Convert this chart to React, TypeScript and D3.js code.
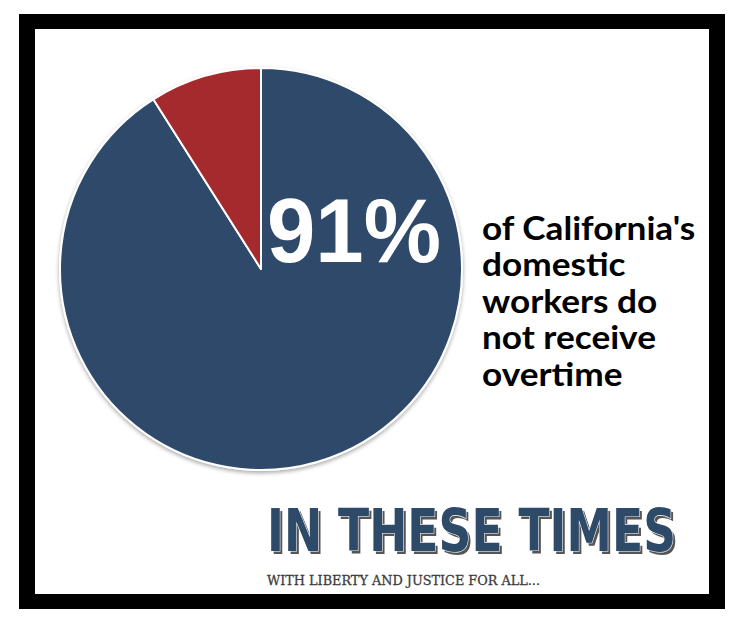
import React from "react";
import * as d3 from "d3";

const categories = ["Do not receive overtime", "Receive overtime"];
const values = [91, 9];
const colors = ["#2e4a69", "#a52c2f"];
const bigLabel = "91%";
const captionLines = ["of California's", "domestic", "workers do", "not receive", "overtime"];
const logoTitle = "IN THESE TIMES";
const logoTagline = "WITH LIBERTY AND JUSTICE FOR ALL...";

const W = 739;
const H = 622;

export default function App() {
  const cx = 261;
  const cy = 269;
  const r = 201;
  const pie = d3.pie<number>().sort(null).value((d) => d);
  const arcs = pie(values);
  const arc = d3.arc<d3.PieArcDatum<number>>().innerRadius(0).outerRadius(r);
  const capX = 482;
  const logoFont = "'Liberation Sans Narrow', 'DejaVu Sans Condensed', 'Liberation Sans', sans-serif";

  return (
    <div style={{ position: "fixed", left: 0, top: 0 }}>
      <svg width={W} height={H} viewBox={`0 0 ${W} ${H}`} style={{ display: "block" }}>
        <defs>
          <filter id="pieShadow" x="-10%" y="-10%" width="120%" height="120%">
            <feGaussianBlur in="SourceAlpha" stdDeviation="2" />
            <feOffset dx="0" dy="2" result="b" />
            <feComponentTransfer>
              <feFuncA type="linear" slope="0.35" />
            </feComponentTransfer>
            <feMerge>
              <feMergeNode />
              <feMergeNode in="SourceGraphic" />
            </feMerge>
          </filter>
        </defs>
        <rect x={0} y={0} width={W} height={H} fill="#ffffff" />
        <rect x={19} y={14} width={706} height={595} fill="#000000" />
        <rect x={35} y={29} width={674} height={565} fill="#ffffff" />

        <g transform={`translate(${cx},${cy})`} filter="url(#pieShadow)">
          {arcs.map((a, i) => (
            <path
              key={categories[i]}
              d={arc(a) || ""}
              fill={colors[i]}
              stroke="#ffffff"
              strokeWidth={2}
              strokeLinejoin="round"
            />
          ))}
        </g>

        <text
          x={267}
          y={262}
          fill="#ffffff"
          fontFamily="'Liberation Sans', Arial, sans-serif"
          fontWeight="bold"
          fontSize={90}
          textLength={174}
          lengthAdjust="spacingAndGlyphs"
        >
          {bigLabel}
        </text>

        <g
          transform={`translate(${capX},0) scale(1.1,1)`}
          fontFamily="Lato, 'DejaVu Sans', sans-serif"
          fontWeight="bold"
          fontSize={32}
          fill="#000000"
        >
          {captionLines.map((line, i) => (
            <text key={line} x={0} y={240 + i * 36.4}>
              {line}
            </text>
          ))}
        </g>

        <g>
          <text
            x={269.5}
            y={553.5}
            fill="#555555"
            fontFamily={logoFont}
            fontWeight="bold"
            fontSize={58}
            textLength={409}
            lengthAdjust="spacingAndGlyphs"
          >
            {logoTitle}
          </text>
          <text
            x={267}
            y={551}
            fill="#2e4a69"
            stroke="#ffffff"
            strokeWidth={1.2}
            paintOrder="stroke"
            fontFamily={logoFont}
            fontWeight="bold"
            fontSize={58}
            textLength={409}
            lengthAdjust="spacingAndGlyphs"
          >
            {logoTitle}
          </text>
          <text
            x={267}
            y={585}
            fill="#3c3c3c"
            stroke="#3c3c3c"
            strokeWidth={0.3}
            fontFamily="'DejaVu Serif', 'Liberation Serif', serif"
            fontWeight="normal"
            fontSize={13.5}
            textLength={273}
            lengthAdjust="spacingAndGlyphs"
          >
            {logoTagline}
          </text>
        </g>
      </svg>
    </div>
  );
}
